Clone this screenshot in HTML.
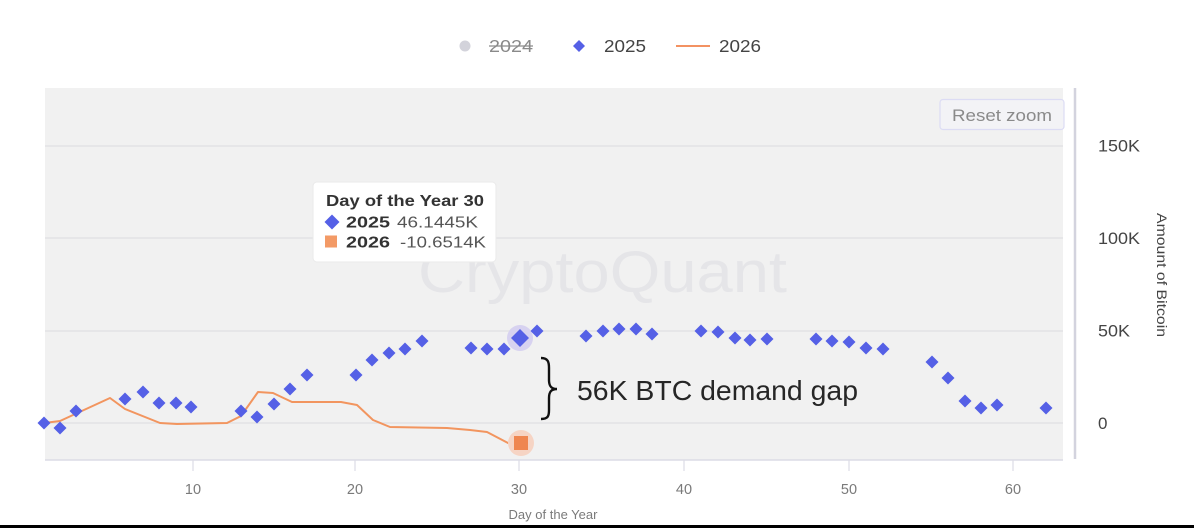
<!DOCTYPE html>
<html><head><meta charset="utf-8"><style>
html,body{margin:0;padding:0;background:#fff;}
svg{display:block;}
text{font-family:"Liberation Sans",sans-serif;}
</style></head><body>
<svg width="1194" height="528" viewBox="0 0 1194 528" xmlns="http://www.w3.org/2000/svg">
<rect x="0" y="0" width="1194" height="528" fill="#fff"/>
<!-- legend -->
<circle cx="465" cy="46" r="5.5" fill="#d3d3db"/>
<text x="489" y="52" font-size="17.5" fill="#8a8a8a" textLength="44" lengthAdjust="spacingAndGlyphs">2024</text>
<line x1="489" y1="46" x2="533" y2="46" stroke="#8a8a8a" stroke-width="1.3"/>
<path d="M579,40 L585,46 L579,52 L573,46 Z" fill="#5560e6"/>
<text x="604" y="52" font-size="17.5" fill="#444" textLength="42" lengthAdjust="spacingAndGlyphs">2025</text>
<line x1="676" y1="46" x2="710" y2="46" stroke="#f39262" stroke-width="2"/>
<text x="719" y="52" font-size="17.5" fill="#444" textLength="42" lengthAdjust="spacingAndGlyphs">2026</text>

<!-- plot area -->
<rect x="45" y="88" width="1018" height="372" fill="#f1f1f1"/>
<g stroke="#e3e3e5" stroke-width="1.5">
<line x1="45" y1="146" x2="1063" y2="146"/>
<line x1="45" y1="238" x2="1063" y2="238"/>
<line x1="45" y1="331" x2="1063" y2="331"/>
<line x1="45" y1="423" x2="1063" y2="423"/>
</g>
<line x1="45" y1="460" x2="1063" y2="460" stroke="#dcdce6" stroke-width="1.5"/>
<g stroke="#dcdce6" stroke-width="1.2">
<line x1="193" y1="460" x2="193" y2="471"/>
<line x1="355" y1="460" x2="355" y2="471"/>
<line x1="519" y1="460" x2="519" y2="471"/>
<line x1="684" y1="460" x2="684" y2="471"/>
<line x1="849" y1="460" x2="849" y2="471"/>
<line x1="1013" y1="460" x2="1013" y2="471"/>
</g>
<line x1="1075" y1="88" x2="1075" y2="459" stroke="#d3d3de" stroke-width="2.5"/>

<!-- watermark -->
<text x="418" y="292" font-size="58" fill="#e5e5e8" textLength="369" lengthAdjust="spacingAndGlyphs">CryptoQuant</text>

<!-- x labels -->
<g font-size="14.5" fill="#7a7a7a" text-anchor="middle">
<text x="193" y="494">10</text>
<text x="355" y="494">20</text>
<text x="519" y="494">30</text>
<text x="684" y="494">40</text>
<text x="849" y="494">50</text>
<text x="1013" y="494">60</text>
</g>
<text x="553" y="519" font-size="13" fill="#7a7a7a" text-anchor="middle">Day of the Year</text>

<!-- y labels -->
<g font-size="17" fill="#444">
<text x="1098" y="151.5" textLength="42" lengthAdjust="spacingAndGlyphs">150K</text>
<text x="1098" y="244" textLength="42" lengthAdjust="spacingAndGlyphs">100K</text>
<text x="1098" y="336.5" textLength="32" lengthAdjust="spacingAndGlyphs">50K</text>
<text x="1098" y="429">0</text>
</g>
<text transform="translate(1157,275) rotate(90)" font-size="13.5" fill="#444" text-anchor="middle" textLength="124" lengthAdjust="spacingAndGlyphs">Amount of Bitcoin</text>

<!-- reset zoom -->
<rect x="940" y="99.5" width="124" height="30" rx="3" fill="#f3f3f6" stroke="#dcdcf4" stroke-width="1.2"/>
<text x="952" y="121" font-size="17" fill="#8a8a8a" textLength="100" lengthAdjust="spacingAndGlyphs">Reset zoom</text>

<!-- 2026 line -->
<polyline fill="none" stroke="#f2955f" stroke-width="2" stroke-linejoin="round" points="44,423 60,421 110,398 125,409 160,423 177,424 227,423 241,416 258,392 273,393 292,402 341,402 357,405 373,420 390,427 447,428 470,430 487,432 508,443 521,443"/>

<!-- halos -->
<circle cx="520" cy="338" r="13" fill="#d7d2f0"/>
<circle cx="521" cy="443" r="13" fill="#f6d4c4"/>
<rect x="514" y="436" width="14" height="14" fill="#ef8650"/>

<!-- 2025 diamonds -->
<g fill="#5560e6">
<path d="M44,416.5l6.5,6.5l-6.5,6.5l-6.5,-6.5z"/>
<path d="M60,421.5l6.5,6.5l-6.5,6.5l-6.5,-6.5z"/>
<path d="M76,404.5l6.5,6.5l-6.5,6.5l-6.5,-6.5z"/>
<path d="M125,392.5l6.5,6.5l-6.5,6.5l-6.5,-6.5z"/>
<path d="M143,385.5l6.5,6.5l-6.5,6.5l-6.5,-6.5z"/>
<path d="M159,396.5l6.5,6.5l-6.5,6.5l-6.5,-6.5z"/>
<path d="M176,396.5l6.5,6.5l-6.5,6.5l-6.5,-6.5z"/>
<path d="M191,400.5l6.5,6.5l-6.5,6.5l-6.5,-6.5z"/>
<path d="M241,404.5l6.5,6.5l-6.5,6.5l-6.5,-6.5z"/>
<path d="M257,410.5l6.5,6.5l-6.5,6.5l-6.5,-6.5z"/>
<path d="M274,397.5l6.5,6.5l-6.5,6.5l-6.5,-6.5z"/>
<path d="M290,382.5l6.5,6.5l-6.5,6.5l-6.5,-6.5z"/>
<path d="M307,368.5l6.5,6.5l-6.5,6.5l-6.5,-6.5z"/>
<path d="M356,368.5l6.5,6.5l-6.5,6.5l-6.5,-6.5z"/>
<path d="M372,353.5l6.5,6.5l-6.5,6.5l-6.5,-6.5z"/>
<path d="M389,346.5l6.5,6.5l-6.5,6.5l-6.5,-6.5z"/>
<path d="M405,342.5l6.5,6.5l-6.5,6.5l-6.5,-6.5z"/>
<path d="M422,334.5l6.5,6.5l-6.5,6.5l-6.5,-6.5z"/>
<path d="M471,341.5l6.5,6.5l-6.5,6.5l-6.5,-6.5z"/>
<path d="M487,342.5l6.5,6.5l-6.5,6.5l-6.5,-6.5z"/>
<path d="M504,342.5l6.5,6.5l-6.5,6.5l-6.5,-6.5z"/>
<path d="M520,329l9,9l-9,9l-9,-9z"/>
<path d="M537,324.5l6.5,6.5l-6.5,6.5l-6.5,-6.5z"/>
<path d="M586,329.5l6.5,6.5l-6.5,6.5l-6.5,-6.5z"/>
<path d="M603,324.5l6.5,6.5l-6.5,6.5l-6.5,-6.5z"/>
<path d="M619,322.5l6.5,6.5l-6.5,6.5l-6.5,-6.5z"/>
<path d="M636,322.5l6.5,6.5l-6.5,6.5l-6.5,-6.5z"/>
<path d="M652,327.5l6.5,6.5l-6.5,6.5l-6.5,-6.5z"/>
<path d="M701,324.5l6.5,6.5l-6.5,6.5l-6.5,-6.5z"/>
<path d="M718,325.5l6.5,6.5l-6.5,6.5l-6.5,-6.5z"/>
<path d="M735,331.5l6.5,6.5l-6.5,6.5l-6.5,-6.5z"/>
<path d="M750,333.5l6.5,6.5l-6.5,6.5l-6.5,-6.5z"/>
<path d="M767,332.5l6.5,6.5l-6.5,6.5l-6.5,-6.5z"/>
<path d="M816,332.5l6.5,6.5l-6.5,6.5l-6.5,-6.5z"/>
<path d="M832,334.5l6.5,6.5l-6.5,6.5l-6.5,-6.5z"/>
<path d="M849,335.5l6.5,6.5l-6.5,6.5l-6.5,-6.5z"/>
<path d="M866,341.5l6.5,6.5l-6.5,6.5l-6.5,-6.5z"/>
<path d="M883,342.5l6.5,6.5l-6.5,6.5l-6.5,-6.5z"/>
<path d="M932,355.5l6.5,6.5l-6.5,6.5l-6.5,-6.5z"/>
<path d="M948,371.5l6.5,6.5l-6.5,6.5l-6.5,-6.5z"/>
<path d="M965,394.5l6.5,6.5l-6.5,6.5l-6.5,-6.5z"/>
<path d="M981,401.5l6.5,6.5l-6.5,6.5l-6.5,-6.5z"/>
<path d="M997,398.5l6.5,6.5l-6.5,6.5l-6.5,-6.5z"/>
<path d="M1046,401.5l6.5,6.5l-6.5,6.5l-6.5,-6.5z"/>
</g>

<!-- annotation -->
<path d="M541,358 C548,358 549,362 549,368 L549,380 C549,386 551,389 557,389 C551,389 549,392 549,398 L549,410 C549,416 548,419 541,419" fill="none" stroke="#111" stroke-width="2.4"/>
<text x="577" y="400" font-size="28" fill="#262626" textLength="281" lengthAdjust="spacingAndGlyphs">56K BTC demand gap</text>

<!-- tooltip -->
<rect x="313" y="182" width="183" height="80" rx="4" fill="#fff" stroke="#eaeaea" stroke-width="1"/>
<text x="326" y="206" font-size="16" font-weight="bold" fill="#333" textLength="158" lengthAdjust="spacingAndGlyphs">Day of the Year 30</text>
<path d="M332,214.5l7.5,7.5l-7.5,7.5l-7.5,-7.5z" fill="#5560e6"/>
<text x="346" y="227.5" font-size="16" font-weight="bold" fill="#333" textLength="44" lengthAdjust="spacingAndGlyphs">2025</text>
<text x="397" y="227.5" font-size="16" fill="#555" textLength="81" lengthAdjust="spacingAndGlyphs">46.1445K</text>
<rect x="325" y="235.5" width="12" height="12" fill="#f39a66"/>
<text x="346" y="247.5" font-size="16" font-weight="bold" fill="#333" textLength="44" lengthAdjust="spacingAndGlyphs">2026</text>
<text x="400" y="247.5" font-size="16" fill="#555" textLength="86" lengthAdjust="spacingAndGlyphs">-10.6514K</text>

<!-- bottom bar -->
<rect x="0" y="525" width="1194" height="3" fill="#000"/>
</svg>
</body></html>
